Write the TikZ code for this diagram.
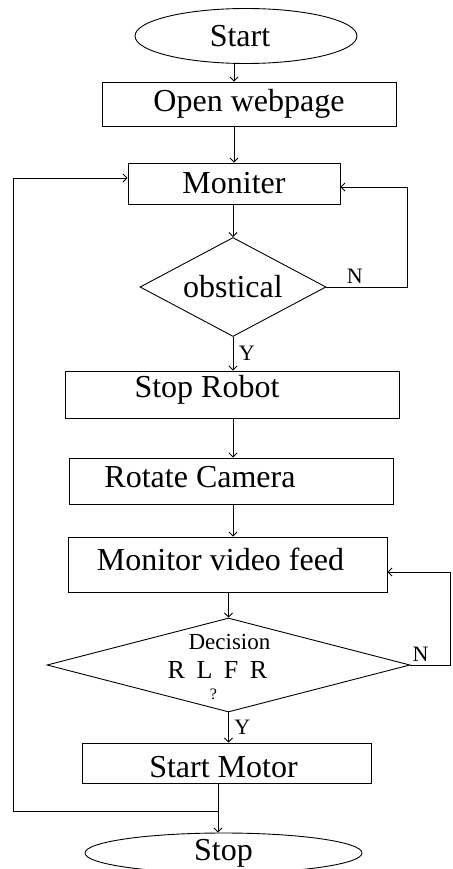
\documentclass[tikz,border=0pt]{standalone}
\usepackage{fontspec}
\setmainfont{Liberation Serif}
\usetikzlibrary{shapes.geometric, arrows.meta}

\begin{document}
\begin{tikzpicture}[
    x=1pt, y=-1pt,
    terminal/.style={
        ellipse,
        draw,
        line width=0.9pt,
        inner sep=0pt,
        font=\fontsize{32}{38}\selectfont,
    },
    process/.style={
        rectangle,
        draw,
        line width=0.9pt,
        inner sep=0pt,
        font=\fontsize{32}{38}\selectfont,
    },
    decide/.style={
        diamond,
        draw,
        line width=0.9pt,
        inner sep=0pt,
        aspect=2,
        font=\fontsize{32}{38}\selectfont,
    },
    arr/.style={-{Straight Barb[length=4pt,width=8pt]}, line width=0.9pt},
    lin/.style={line width=0.9pt},
    lbl/.style={font=\fontsize{22}{26}\selectfont},
]
\useasboundingbox (0,0) rectangle (452,869);

\node[terminal, minimum width=222pt, minimum height=55pt,
    label={[shift={(-6pt,0pt)}, font=\fontsize{32}{38}\selectfont]center:Start}]
    (start) at (246,36) {};
\node[process, minimum width=294pt, minimum height=44pt] (open) at (249,104) {Open webpage};
\node[process, minimum width=212pt, minimum height=41pt] (moniter) at (234,183.5) {Moniter};
\node[decide, minimum width=186pt, minimum height=99pt] (obst) at (233,287) {obstical};

\node[process, minimum width=334pt, minimum height=47pt,
    label={[shift={(-25pt,5pt)}, font=\fontsize{32}{38}\selectfont]center:Stop Robot}]
    (stoprobot) at (232,394.5) {};
\node[process, minimum width=324pt, minimum height=46pt,
    label={[shift={(-31pt,4pt)}, font=\fontsize{32}{38}\selectfont]center:Rotate Camera}]
    (rotate) at (231,481) {};
\node[process, minimum width=319pt, minimum height=55pt,
    label={[shift={(-7pt,5.5pt)}, font=\fontsize{32}{38}\selectfont]center:Monitor video feed}]
    (mvf) at (227.5,564.5) {};

% three lines of the decision text, each centred on its own x offset
\node[decide, minimum width=363pt, minimum height=94pt,
    label={[align=center, shift={(1pt,-2pt)}, font=\fontsize{23}{29}\selectfont]center:
        Decision\\
        {\fontsize{26}{29}\selectfont\kern-12pt\makebox[0pt]{R\ \kern5pt L\ \kern5pt F\ \kern5pt R}\kern12pt}\\[-8pt]
        {\fontsize{16}{18}\selectfont\kern-16pt\makebox[0pt]{?}\kern16pt}}]
    (decision) at (228.5,665) {};

\node[process, minimum width=289pt, minimum height=40pt,
    label={[shift={(-3pt,-4pt)}, font=\fontsize{32}{38}\selectfont]center:Start Motor}]
    (startmotor) at (226.5,763) {};
\node[terminal, minimum width=277pt, minimum height=40pt] (stop) at (223.5,853) {Stop};

% main line
\draw[arr] (start.south -| moniter) -- (open.north -| moniter);
\draw[arr] (open.south -| moniter) -- (moniter.north);
\draw[arr] (moniter.south -| obst) -- (obst.north);
\draw[arr] (obst.south) -- node[right, lbl, xshift=2pt] {Y} (stoprobot.north -| obst);
\draw[arr] (stoprobot.south -| obst) -- (rotate.north -| obst);
\draw[arr] (rotate.south -| obst) -- (mvf.north -| obst);
\draw[arr] (mvf.south -| decision) -- (decision.north);
\draw[arr] (decision.south) -- node[right, lbl, xshift=2pt] {Y} (startmotor.north -| decision);

% no branches
\draw[arr] (obst.east) -- node[pos=0.35, above, lbl] {N} ++(81,0) |- ([yshift=-3.5pt]moniter.east);
\draw[arr] (decision.east) -- node[pos=0.25, above, lbl] {N} ++(40,0) |- ([yshift=-7.5pt]mvf.east);

% back to monitoring, and stop
\coordinate (merge) at (218,811);
\coordinate (loopL) at (13,811);
\draw[lin] (startmotor.south -| merge) -- (merge);
\draw[arr] (merge) -- (stop.north -| merge);
\draw[arr] (merge) -- (loopL) |- ([yshift=5.5pt]moniter.west);

\end{tikzpicture}
\end{document}
